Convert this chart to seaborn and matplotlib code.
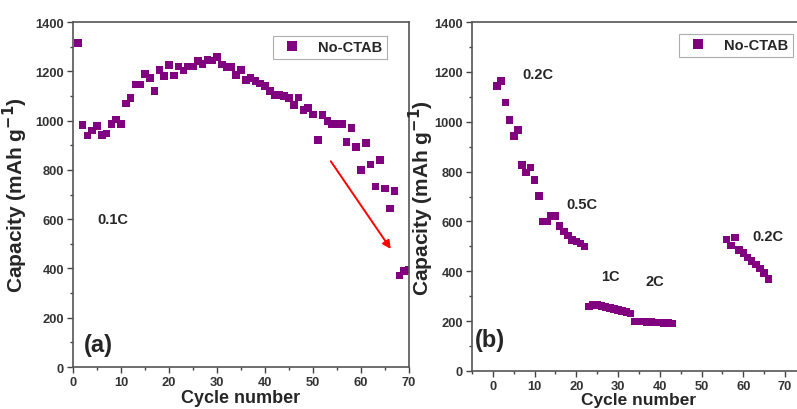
import matplotlib
matplotlib.use("Agg")
import matplotlib.pyplot as plt
from matplotlib.ticker import MultipleLocator
import pandas as pd
import seaborn as sns

# panel (a): cycling at 0.1C
cycles_a = list(range(1, 71))
capacity_a = [1315, 983, 939, 959, 978, 942, 948, 986, 1004, 986,
              1069, 1092, 1146, 1147, 1188, 1172, 1119, 1204, 1180, 1226,
              1183, 1220, 1203, 1219, 1219, 1241, 1230, 1247, 1243, 1259,
              1227, 1218, 1218, 1185, 1204, 1165, 1173, 1161, 1150, 1140,
              1120, 1105, 1105, 1099, 1092, 1063, 1094, 1044, 1051, 1024,
              920, 1023, 998, 985, 985, 985, 912, 969, 894, 800,
              908, 821, 733, 841, 725, 644, 714, 371, 390, 393]

# panel (b): rate capability
cycles_b = list(range(1, 44)) + list(range(56, 67))
capacity_b = [1144, 1164, 1078, 1007, 944, 967, 826, 797, 817, 767,
              701, 600, 600, 623, 623, 583, 560, 543, 525, 519,
              512, 499,
              258, 266, 264, 260, 256, 252, 248, 244, 240, 236, 231,
              198, 199, 198, 197, 196, 195, 194, 193, 192, 190,
              527, 503, 536, 485, 473, 456, 442, 428, 412, 392, 369]

rate_labels = ["0.2C", "0.5C", "1C", "2C", "0.2C"]
rate_label_xy = [(7, 1190), (17.7, 670), (26, 380), (36.5, 360), (62.2, 540)]

series_name = "No-CTAB"
purple = "#800080"

sns.set_style("ticks")
plt.rcParams["font.family"] = ["Liberation Sans", "DejaVu Sans"]
plt.rcParams["font.weight"] = "bold"
plt.rcParams["axes.labelweight"] = "bold"

fig = plt.figure(figsize=(7.97, 4.10), dpi=100)
ax1 = fig.add_axes([0.0916, 0.1024, 0.4216, 0.8415])
ax2 = fig.add_axes([0.5922, 0.0927, 0.419, 0.851])

df_a = pd.DataFrame({"cycle": cycles_a, "capacity": capacity_a, "sample": series_name})
df_b = pd.DataFrame({"cycle": cycles_b, "capacity": capacity_b, "sample": series_name})

for ax, df in ((ax1, df_a), (ax2, df_b)):
    sns.scatterplot(data=df, x="cycle", y="capacity", hue="sample",
                    palette=[purple], marker="s", s=30, linewidth=0,
                    ax=ax)
    ax.set_ylim(0, 1400)
    ax.yaxis.set_major_locator(MultipleLocator(200))
    ax.yaxis.set_minor_locator(MultipleLocator(100))
    ax.xaxis.set_major_locator(MultipleLocator(10))
    ax.xaxis.set_minor_locator(MultipleLocator(5))
    ax.tick_params(which="major", length=4, width=1, color="#444444",
                   labelsize=9.3, labelcolor="#333333", direction="out", pad=2.5)
    ax.tick_params(which="minor", length=2.5, width=1, color="#444444")
    for sp in ax.spines.values():
        sp.set_color("#555555")
        sp.set_linewidth(1.2)
    for lab in ax.get_xticklabels() + ax.get_yticklabels():
        lab.set_fontweight("bold")

ax1.set_xlabel("Cycle number", fontsize=13, labelpad=1)
ax1.set_ylabel("Capacity (mAh g$^{\\mathbf{-1}}$)", fontsize=15, labelpad=4)
ax2.set_xlabel("Cycle number", fontsize=12.5, labelpad=0)
ax2.set_ylabel("Capacity (mAh g$^{\\mathbf{-1}}$)", fontsize=15, labelpad=-1)

ax1.set_xlim(0, 70)
ax2.set_xlim(-5, 75)

leg1 = ax1.legend(loc="upper left", bbox_to_anchor=(0.595, 0.96), frameon=True,
                  fancybox=False, edgecolor="#999999", fontsize=10.5,
                  handletextpad=0.8, borderpad=0.3, markerscale=1.2,
                  borderaxespad=0)
leg2 = ax2.legend(loc="upper left", bbox_to_anchor=(0.62, 0.966), frameon=True,
                  fancybox=False, edgecolor="#999999", fontsize=10.5,
                  handletextpad=0.8, borderpad=0.3, markerscale=1.2,
                  borderaxespad=0)
for leg in (leg1, leg2):
    leg.get_frame().set_linewidth(0.8)
    for t in leg.get_texts():
        t.set_fontweight("bold")

ax1.text(5, 600, "0.1C", fontsize=10.5, fontweight="bold", va="center")
ax1.text(2.2, 90, "(a)", fontsize=17, fontweight="bold", va="center")
ax1.annotate("", xy=(66.2, 479), xytext=(53.7, 835),
             arrowprops=dict(arrowstyle="-|>", color="red", lw=1.4,
                             mutation_scale=12, shrinkA=0, shrinkB=0))

for lab, (x, y) in zip(rate_labels, rate_label_xy):
    ax2.text(x, y, lab, fontsize=10.5, fontweight="bold", va="center")
ax2.text(-4.2, 125, "(b)", fontsize=17, fontweight="bold", va="center")

fig.savefig("out.png", dpi=100)
